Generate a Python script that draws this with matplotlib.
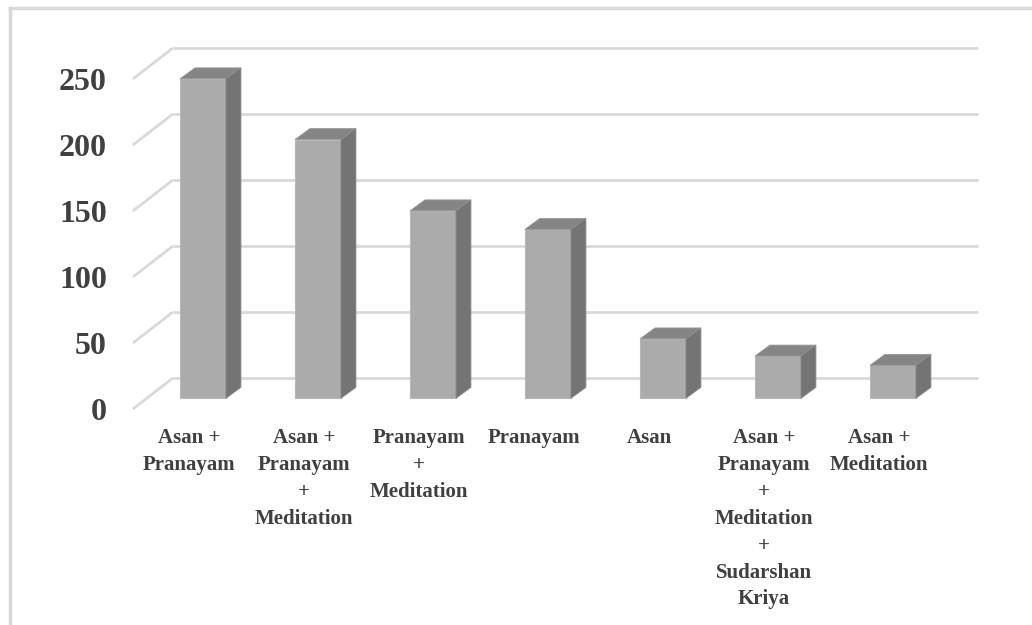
import matplotlib
matplotlib.use("Agg")
import matplotlib.pyplot as plt
from matplotlib.patches import Polygon
from matplotlib.lines import Line2D

# Data
categories = [
    "Asan +\nPranayam",
    "Asan +\nPranayam\n+\nMeditation",
    "Pranayam\n+\nMeditation",
    "Pranayam",
    "Asan",
    "Asan +\nPranayam\n+\nMeditation\n+\nSudarshan\nKriya",
    "Asan +\nMeditation",
]
counts = [242, 196, 142, 128, 45, 32, 25]
y_ticks = [0, 50, 100, 150, 200, 250]

# Appearance
FRONT = "#ababab"
SIDE = "#747474"
TOP = "#858585"
GRID = "#d9d9d9"
TEXT = "#404040"
BAR_W = 0.4
# oblique depth of a bar (category units, value units)
BAR_DX, BAR_DY = 0.13, 8.3
# floor: front edge and back wall offsets relative to the bar plane
FRONT_X, FRONT_Y = -0.609, -8.1
WALL_X, WALL_Y = -0.261, 15.4
WALL_END = 6.74

fig = plt.figure(figsize=(10.32, 6.25), dpi=100)
ax = fig.add_axes([0, 0, 1, 1])
ax.set_xlim(-1.765, 7.209)
ax.set_ylim(-171.7, 301.7)
ax.axis("off")

# gridlines: slanted floor part then the back wall
for v in y_ticks:
    ax.plot([FRONT_X, WALL_X], [v + FRONT_Y, v + WALL_Y], color=GRID, lw=2, zorder=1,
            solid_capstyle="butt")
    ax.plot([WALL_X, WALL_END], [v + WALL_Y, v + WALL_Y], color=GRID, lw=2, zorder=1,
            solid_capstyle="butt")
    ax.text(FRONT_X - 0.226, v + FRONT_Y - 8.0, str(v), ha="right", va="baseline",
            fontsize=23, fontweight="bold", family="Liberation Serif", color=TEXT)

xs = list(range(len(counts)))
ax.bar(xs, counts, width=BAR_W, color=FRONT, edgecolor="#b8b8b8", linewidth=0.8, zorder=3)
for x, v in zip(xs, counts):
    l, r = x - BAR_W / 2, x + BAR_W / 2
    top = Polygon([(l, v), (r, v), (r + BAR_DX, v + BAR_DY), (l + BAR_DX, v + BAR_DY)],
                  closed=True, facecolor=TOP, edgecolor="#9a9a9a", linewidth=0.6, zorder=3)
    side = Polygon([(r, 0), (r + BAR_DX, BAR_DY), (r + BAR_DX, v + BAR_DY), (r, v)],
                   closed=True, facecolor=SIDE, edgecolor="#8a8a8a", linewidth=0.6, zorder=3)
    ax.add_patch(top)
    ax.add_patch(side)

for x, lab in zip(xs, categories):
    ax.text(x - 0.122, -22.5, lab, ha="center", va="top", fontsize=15, fontweight="bold",
            family="Liberation Serif", color=TEXT, linespacing=1.46)

# outer frame
fig.add_artist(Line2D([10 / 1032, 10 / 1032], [0, 1 - 8 / 625], color=GRID, lw=2.5))
fig.add_artist(Line2D([10 / 1032, 1], [1 - 8 / 625, 1 - 8 / 625], color=GRID, lw=2.5))

fig.savefig("out.png", dpi=100)
